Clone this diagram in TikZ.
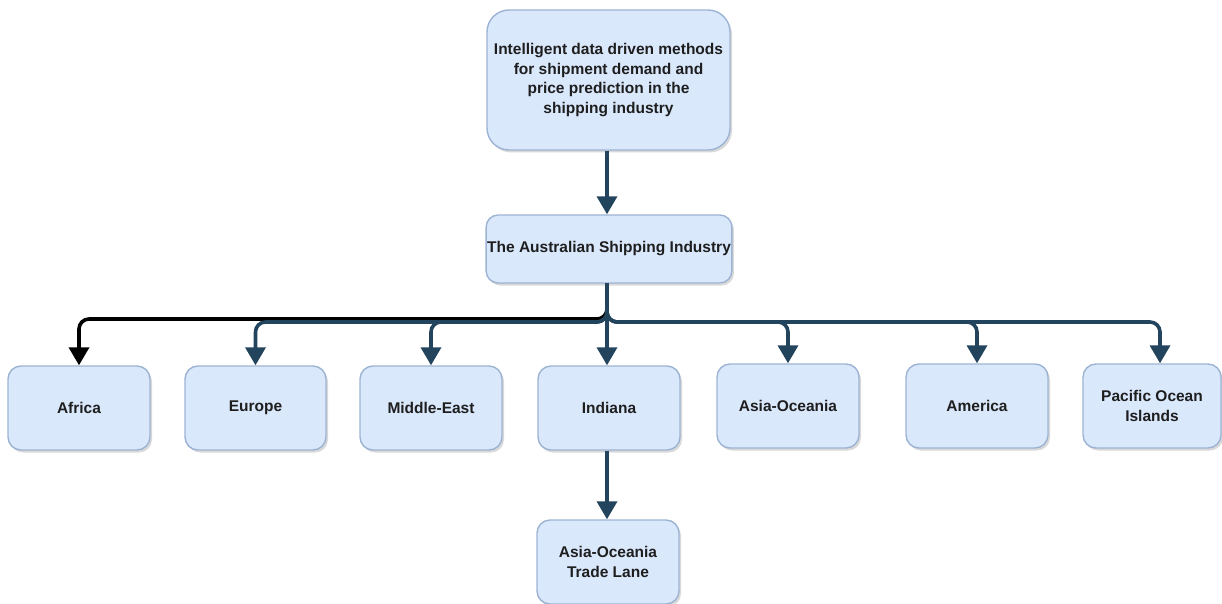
\documentclass[tikz,border=0pt]{standalone}
\usepackage{fontspec}
\setmainfont{Liberation Sans}
\usetikzlibrary{arrows.meta,shadows}
\definecolor{boxfill}{HTML}{DAE8FC}
\definecolor{boxline}{HTML}{9DB3D3}
\definecolor{linkcol}{HTML}{23445D}
\definecolor{txtcol}{HTML}{1E1E1E}
\tikzset{
  box/.style={draw=boxline, line width=1.4pt, fill=boxfill, rounded corners=13pt,
    minimum width=142pt, minimum height=84pt, align=center, text=txtcol,
    font=\fontsize{15.5}{19.5}\selectfont\bfseries, inner sep=1pt,
    drop shadow={shadow xshift=2pt, shadow yshift=-2.5pt, opacity=0.25, fill=black!60}},
  link/.style={draw=linkcol, line width=3.6pt, rounded corners=10pt,
    -{Triangle[width=20pt,length=18pt]}},
}
\begin{document}
\begin{tikzpicture}[x=1pt,y=-1pt]
\useasboundingbox (0,0) rectangle (1222,604);
% root and second level
\node[box, minimum width=243pt, minimum height=140pt, rounded corners=22pt] (root) at (608.5,80)
  {Intelligent data driven methods\\for shipment demand and\\price prediction in the\\shipping industry};
\node[box, minimum width=244pt, minimum height=68pt, rounded corners=12pt] (aus) at (609,249)
  {The Australian Shipping Industry};
% regions
\node[box] (africa) at (79,408) {Africa};
\node[box, minimum width=141pt] (europe) at (255.5,408) {Europe};
\node[box] (mideast) at (431,408) {Middle-East};
\node[box] (indiana) at (609,408) {Indiana};
\node[box] (asiaoc) at (788,406) {Asia-Oceania};
\node[box] (america) at (977,406) {America};
\node[box, minimum width=138pt] (pacific) at (1152,406) {Pacific Ocean\\Islands};
\node[box] (lane) at (608,562) {Asia-Oceania\\Trade Lane};
% bus line heights
\coordinate (bus) at (607,322);
\coordinate (busk) at (607,319);
% connectors (the black branch first, so the blue trunk lies on top)
\draw[link] (root.south -| 607,0) -- (aus.north -| 607,0);
\draw[link, draw=black] (aus.south -| busk) -- (busk) -| (africa.north);
\draw[link] (aus.south -| bus) -- (bus) -| (europe.north);
\draw[link] (aus.south -| bus) -- (bus) -| (mideast.north);
\draw[link] (aus.south -| bus) -- (indiana.north -| bus);
\draw[link] (aus.south -| bus) -- (bus) -| (asiaoc.north);
\draw[link] (aus.south -| bus) -- (bus) -| (america.north);
\draw[link] (aus.south -| bus) -- (bus) -| ([xshift=8pt]pacific.north);
\draw[link] (indiana.south -| bus) -- (lane.north -| bus);
\end{tikzpicture}
\end{document}
